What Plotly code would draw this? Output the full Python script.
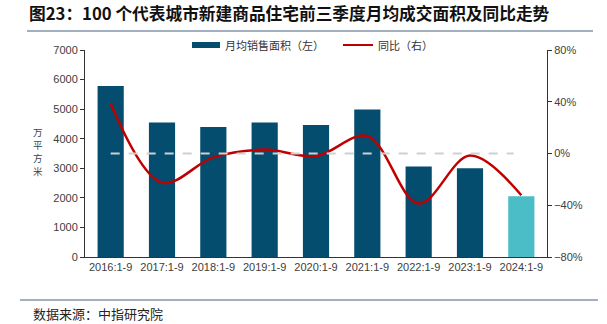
import plotly.graph_objects as go

categories = ["2016:1-9", "2017:1-9", "2018:1-9", "2019:1-9", "2020:1-9",
              "2021:1-9", "2022:1-9", "2023:1-9", "2024:1-9"]
area = [5780, 4550, 4400, 4550, 4460, 4990, 3060, 3000, 2055]
yoy = [0.387, -0.225, -0.03, 0.03, -0.02, 0.134, -0.387, -0.016, -0.323]
y_title_chars = ["万", "平", "方", "米"]

W, H = 607, 324
L, R, T, B = 85, 60, 50, 67
pw, ph = W - L - R, H - T - B

def px(x):
    return (x - L) / pw

def py(y):
    return (H - B - y) / ph

bar_colors = ["#044d6e"] * (len(categories) - 1) + ["#4bbdc7"]

fig = go.Figure()
fig.add_trace(go.Bar(x=categories, y=area, marker=dict(color=bar_colors, line=dict(width=0)),
                     name="月均销售面积（左）", yaxis="y", showlegend=False))
fig.add_trace(go.Scatter(x=categories, y=yoy, mode="lines", line=dict(color="#c00000", width=2.5, shape="spline", smoothing=1.0),
                         name="同比（右）", yaxis="y2", showlegend=False))

tickfont = dict(family="Liberation Sans, Arial", size=11, color="#404040")
fig.update_layout(
    width=W, height=H, margin=dict(l=L, r=R, t=T, b=B),
    paper_bgcolor="white", plot_bgcolor="white",
    bargap=0.49,
    xaxis=dict(showline=True, linecolor="#333333", linewidth=1, ticks="", tickfont=tickfont,
               showgrid=False, zeroline=False),
    yaxis=dict(range=[0, 7000], dtick=1000, showline=True, linecolor="#333333", linewidth=1,
               ticks="outside", ticklen=4, tickcolor="#333333", tickfont=tickfont,
               showgrid=False, zeroline=False),
    yaxis2=dict(range=[-0.8, 0.8], dtick=0.4, tickformat=".0%", overlaying="y", side="right",
                showline=True, linecolor="#333333", linewidth=1, ticks="outside", ticklen=4,
                tickcolor="#333333", tickfont=tickfont, showgrid=False, zeroline=False),
    showlegend=False,
)

shapes = [
    # zero reference line
    dict(type="line", xref="x", yref="y2", x0=0, x1=7.85, y0=0, y1=0,
         line=dict(color="#d0d0d0", width=2, dash="dash"), layer="above"),
    # title underline
    dict(type="line", xref="paper", yref="paper", x0=px(27), x1=px(593), y0=py(31), y1=py(31),
         line=dict(color="#44607f", width=1)),
    # source line
    dict(type="line", xref="paper", yref="paper", x0=px(20), x1=px(598), y0=py(300), y1=py(300),
         line=dict(color="#44607f", width=1)),
    # legend swatches
    dict(type="rect", xref="paper", yref="paper", x0=px(192), x1=px(220), y0=py(48), y1=py(42),
         fillcolor="#044d6e", line=dict(width=0)),
    dict(type="line", xref="paper", yref="paper", x0=px(343), x1=px(373), y0=py(45), y1=py(45),
         line=dict(color="#c00000", width=2)),
]

cjk = "Noto Sans CJK SC"
annotations = [
    dict(text="<b>图23：100 个代表城市新建商品住宅前三季度月均成交面积及同比走势</b>", xref="paper", yref="paper",
         x=px(27), y=py(13), xanchor="left", yanchor="middle", showarrow=False,
         font=dict(family=cjk, size=16.7, color="#111111")),
    dict(text="数据来源：中指研究院", xref="paper", yref="paper",
         x=px(31), y=py(313), xanchor="left", yanchor="middle", showarrow=False,
         font=dict(family=cjk, size=13, color="#222222")),
    dict(text="月均销售面积（左）", xref="paper", yref="paper",
         x=px(223), y=py(45), xanchor="left", yanchor="middle", showarrow=False,
         font=dict(family=cjk, size=11, color="#333333")),
    dict(text="同比（右）", xref="paper", yref="paper",
         x=px(376), y=py(45), xanchor="left", yanchor="middle", showarrow=False,
         font=dict(family=cjk, size=11, color="#333333")),
]
for i, ch in enumerate(y_title_chars):
    annotations.append(dict(text=ch, xref="paper", yref="paper",
                            x=px(38), y=py(131.7 + i * 13.2), xanchor="center", yanchor="middle",
                            showarrow=False, borderpad=0,
                            font=dict(family=cjk, size=9.5, color="#404040")))
fig.update_layout(shapes=shapes, annotations=annotations)

fig.write_html("out.html")
